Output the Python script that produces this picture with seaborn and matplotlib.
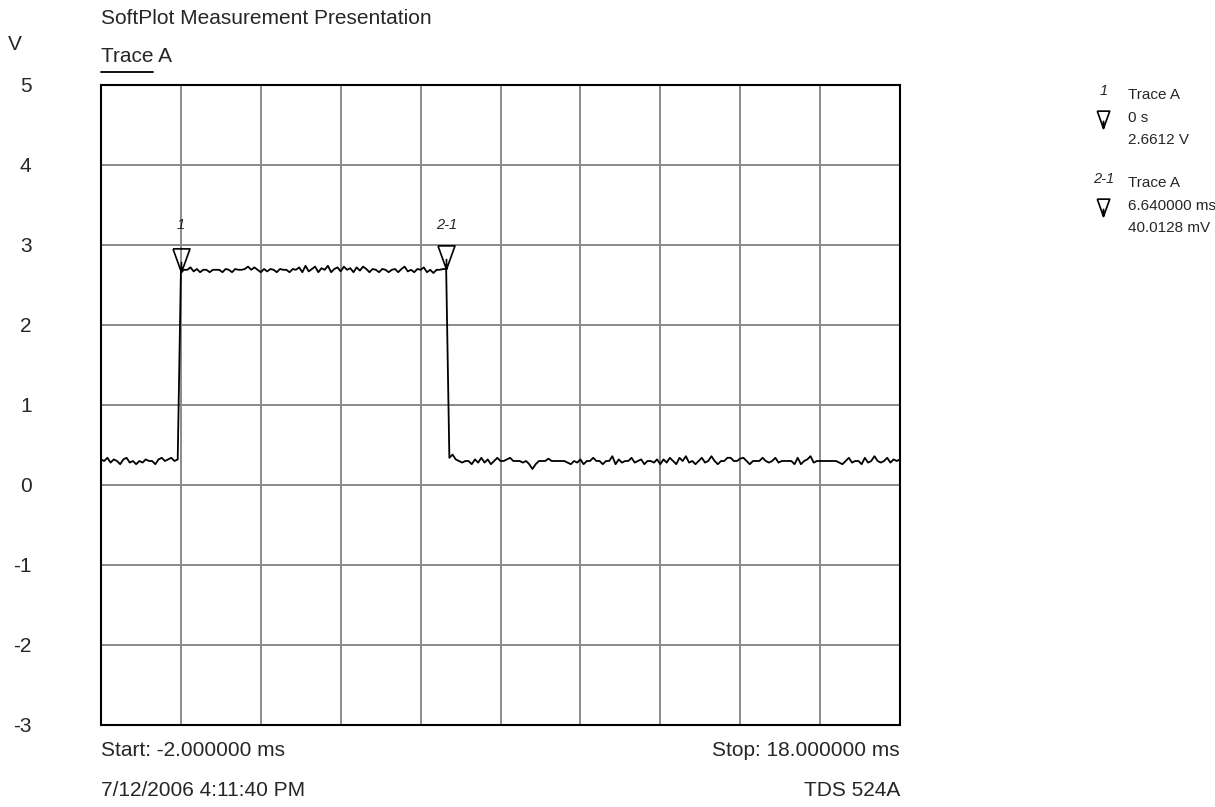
import numpy as np
import pandas as pd
import matplotlib
matplotlib.use("Agg")
import matplotlib.pyplot as plt
from matplotlib.path import Path
from matplotlib.lines import Line2D
from matplotlib import font_manager
import seaborn as sns

# ---- data ----
sample_step_ms = 0.08
start_ms = -2.0
stop_ms = 18.0

low_before = [0.32, 0.30, 0.34, 0.28, 0.32, 0.30, 0.26, 0.32, 0.34, 0.28,
              0.30, 0.26, 0.30, 0.28, 0.32, 0.30, 0.30, 0.26, 0.32, 0.34,
              0.30, 0.32, 0.34, 0.30, 0.32]
high_pulse = [2.66,
              2.69, 2.69, 2.72,
              2.67, 2.70, 2.66, 2.69, 2.69, 2.66, 2.69,
              2.69, 2.69, 2.66, 2.70, 2.69, 2.66, 2.70,
              2.69, 2.69, 2.70, 2.73, 2.69, 2.72,
              2.69, 2.66, 2.70, 2.67, 2.70, 2.69, 2.66,
              2.70, 2.69, 2.69, 2.66, 2.70, 2.69, 2.72,
              2.66, 2.74, 2.67, 2.70, 2.73, 2.66, 2.71, 2.69,
              2.74, 2.66, 2.70, 2.72, 2.67, 2.73, 2.69, 2.71,
              2.66, 2.72, 2.68, 2.73, 2.70, 2.66, 2.70, 2.69,
              2.66, 2.70, 2.69, 2.66, 2.69, 2.70, 2.66, 2.70,
              2.73, 2.67, 2.69, 2.66, 2.70, 2.69, 2.72, 2.66,
              2.69, 2.65, 2.69, 2.69, 2.70,
              2.70]
low_after = [0.34, 0.38, 0.32, 0.30, 0.28,
             0.30, 0.30, 0.26, 0.32, 0.28,
             0.34, 0.28, 0.32, 0.26, 0.30,
             0.34, 0.30, 0.30, 0.32, 0.34,
             0.30, 0.30, 0.30, 0.28, 0.30, 0.26, 0.20, 0.26,
             0.30, 0.30, 0.30, 0.33, 0.30, 0.30,
             0.30, 0.30, 0.30, 0.28, 0.26,
             0.30, 0.28, 0.32, 0.26, 0.30,
             0.30, 0.34, 0.30, 0.30, 0.26,
             0.30, 0.30, 0.36, 0.26, 0.32,
             0.28, 0.30, 0.30, 0.34, 0.28,
             0.30, 0.32, 0.26, 0.30, 0.30,
             0.28, 0.32, 0.26, 0.32, 0.28,
             0.34, 0.30, 0.26, 0.34, 0.30,
             0.36, 0.28, 0.30, 0.26, 0.30,
             0.34, 0.28, 0.30, 0.36, 0.30,
             0.26, 0.30, 0.30, 0.34, 0.34,
             0.30, 0.30, 0.33, 0.34, 0.30,
             0.26, 0.30, 0.30, 0.30, 0.34,
             0.30, 0.28, 0.30, 0.34, 0.28,
             0.30, 0.30, 0.30, 0.30, 0.26,
             0.34, 0.26, 0.30, 0.32, 0.36,
             0.28, 0.30, 0.30, 0.30, 0.30,
             0.30, 0.30, 0.30, 0.28, 0.26,
             0.30, 0.34, 0.28, 0.30, 0.30,
             0.26, 0.34, 0.28, 0.30, 0.36,
             0.30, 0.28, 0.30, 0.34, 0.28,
             0.32, 0.30, 0.32]

marker_times_ms = [0.0, 6.64]
marker_values_v = [2.6612, 2.6612 + 0.0400128]
marker_labels = ["1", "2-1"]
y_ticks = [-3, -2, -1, 0, 1, 2, 3, 4, 5]
x_grid = [-2, 0, 2, 4, 6, 8, 10, 12, 14, 16, 18]

volts = low_before + high_pulse + low_after
times = np.round(start_ms + sample_step_ms * np.arange(len(volts)), 3)
df = pd.DataFrame({"time_ms": times, "volts": volts})

# ---- style ----
sns.set_theme(style="white")
plt.rcParams["font.family"] = ["Liberation Sans", "DejaVu Sans"]
installed = {f.name for f in font_manager.fontManager.ttflist}
HAS_NARROW = "Liberation Sans Narrow" in installed
NARROW = ["Liberation Sans Narrow", "Liberation Sans", "DejaVu Sans"]
HEAD_FS = 15
TICK_FS = 15
LEG_FS = 13 if HAS_NARROW else 11
FOOT_FS = 18.5 if HAS_NARROW else 15
LEG_FAM = NARROW if HAS_NARROW else ["Liberation Sans", "DejaVu Sans"]

W, H = 1215, 807
fig = plt.figure(figsize=(W / 100, H / 100), dpi=100)
ax = fig.add_axes([101 / W, 1 - 725 / H, 799 / W, 640 / H])

sns.lineplot(data=df, x="time_ms", y="volts", ax=ax, color="black",
             linewidth=1.3, estimator=None, sort=False)

ax.set_xlim(start_ms, stop_ms)
ax.set_ylim(-3, 5)
ax.set_xticks(x_grid)
ax.set_xticklabels([])
ax.set_yticks(y_ticks)
ax.set_yticklabels([str(v) for v in y_ticks], fontsize=TICK_FS)
ax.tick_params(axis="both", length=0)
ax.tick_params(axis="y", pad=50)
ax.grid(True, color="#8a8a8a", linewidth=1.4)
ax.set_axisbelow(True)
for s in ax.spines.values():
    s.set_color("black")
    s.set_linewidth(1.5)
ax.set_xlabel("")
ax.set_ylabel("")

# marker shape: downward triangle sitting on the point, with stem
tri = Path([(-0.36, 1.0), (0.36, 1.0), (0.0, 0.0), (-0.36, 1.0),
            (0.0, 0.45), (0.0, 0.0)],
           [Path.MOVETO, Path.LINETO, Path.LINETO, Path.LINETO,
            Path.MOVETO, Path.LINETO])

ax.plot(marker_times_ms, marker_values_v, linestyle="none", marker=tri,
        markersize=34, markerfacecolor="none", markeredgecolor="black",
        markeredgewidth=1.2, clip_on=False, zorder=5)
for t, v, lab in zip(marker_times_ms, marker_values_v, marker_labels):
    ax.text(t, 3.25, lab, fontsize=10.5, style="italic", ha="center",
            va="center")

def fx(x):
    return x / W

def fy(y):
    return 1 - y / H

# header texts
fig.text(fx(15), fy(45), "V", fontsize=HEAD_FS, ha="center", va="center")
fig.text(fx(101), fy(18), "SoftPlot Measurement Presentation",
         fontsize=HEAD_FS, ha="left", va="center")
fig.text(fx(101), fy(57), "Trace A", fontsize=HEAD_FS, ha="left",
         va="center")
fig.add_artist(Line2D([fx(101), fx(153)], [fy(72), fy(72)], color="black",
                      linewidth=1.3, transform=fig.transFigure))

# right-side marker readout
rows = [
    ("1", ["Trace A", "0 s", "2.6612 V"], 95),
    ("2-1", ["Trace A", "6.640000 ms", "40.0128 mV"], 183),
]
for lab, lines, y0 in rows:
    fig.text(fx(1104), fy(y0 - 4), lab, fontsize=10.5, style="italic",
             ha="center", va="center")
    fig.add_artist(Line2D([fx(1103)], [fy(y0 + 33)], marker=tri,
                          markersize=25, markerfacecolor="none",
                          markeredgecolor="black", markeredgewidth=1.2,
                          linestyle="none", transform=fig.transFigure))
    for i, s in enumerate(lines):
        fig.text(fx(1128), fy(y0 + 22.5 * i), s, fontsize=LEG_FS,
                 family=LEG_FAM, ha="left", va="center")

# footer
fig.text(fx(101), fy(750), "Start: -2.000000 ms", fontsize=FOOT_FS,
         family=LEG_FAM, ha="left", va="center")
fig.text(fx(101), fy(790), "7/12/2006 4:11:40 PM", fontsize=FOOT_FS,
         family=LEG_FAM, ha="left", va="center")
fig.text(fx(900), fy(750), "Stop: 18.000000 ms", fontsize=FOOT_FS,
         family=LEG_FAM, ha="right", va="center")
fig.text(fx(900), fy(790), "TDS 524A", fontsize=FOOT_FS, family=LEG_FAM,
         ha="right", va="center")

fig.savefig("out.png", dpi=100, facecolor="white")
